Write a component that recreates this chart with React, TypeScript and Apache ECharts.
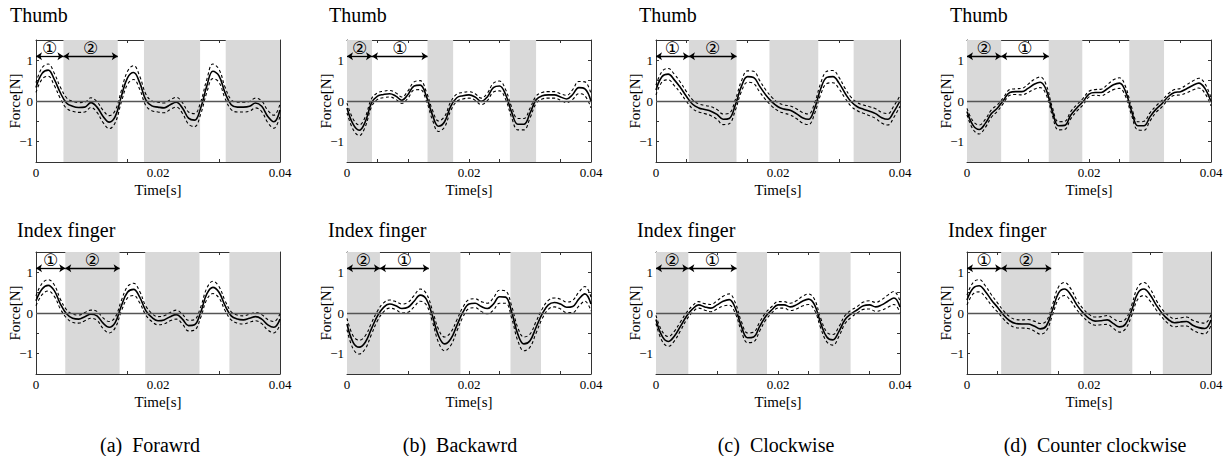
import React, { useEffect, useRef } from "react";
import * as echarts from "echarts";

const TIME_MS = [0,1,2,3,4,5,6,7,8,9,10,11,12,13,14,15,16,17,18,19,20,21,22,23,24,25,26,27,28,29,30,31,32,33,34,35,36,37,38,39,40];

// (a) Forward
const fwdThumb = [0.33,0.68,0.76,0.53,0.2,-0.05,-0.13,-0.16,-0.15,-0.04,-0.15,-0.38,-0.52,-0.38,0.12,0.57,0.7,0.45,0.03,-0.12,-0.15,-0.17,-0.09,-0.03,-0.17,-0.42,-0.47,-0.17,0.37,0.73,0.62,0.2,-0.09,-0.15,-0.15,-0.13,-0.05,-0.13,-0.38,-0.51,-0.22];
const fwdThumbSd = [0.12,0.14,0.15,0.15,0.14,0.13,0.12,0.12,0.12,0.12,0.13,0.15,0.16,0.15,0.14,0.16,0.17,0.16,0.14,0.12,0.12,0.12,0.12,0.12,0.13,0.15,0.16,0.15,0.16,0.18,0.16,0.14,0.12,0.12,0.12,0.12,0.12,0.13,0.15,0.16,0.15];
const fwdIndex = [0.3,0.59,0.68,0.55,0.22,-0.02,-0.13,-0.15,-0.09,-0.03,-0.07,-0.25,-0.35,-0.23,0.18,0.51,0.58,0.39,0.06,-0.11,-0.19,-0.17,-0.09,-0.04,-0.15,-0.31,-0.29,0.02,0.47,0.63,0.51,0.18,-0.07,-0.15,-0.17,-0.13,-0.09,-0.15,-0.29,-0.35,-0.15];
const fwdIndexSd = [0.12,0.14,0.14,0.14,0.12,0.1,0.1,0.1,0.1,0.1,0.11,0.13,0.14,0.13,0.13,0.14,0.15,0.14,0.11,0.1,0.1,0.1,0.1,0.11,0.12,0.13,0.13,0.13,0.14,0.15,0.14,0.12,0.1,0.1,0.1,0.1,0.1,0.11,0.13,0.14,0.13];

// (b) Backward
const bwdThumb = [-0.17,-0.57,-0.72,-0.51,-0.05,0.12,0.16,0.18,0.12,0.02,0.16,0.37,0.39,0.12,-0.34,-0.62,-0.51,-0.13,0.08,0.13,0.15,0.1,-0.01,0.1,0.33,0.37,0.16,-0.28,-0.57,-0.57,-0.3,0.03,0.13,0.15,0.15,0.1,0.05,0.16,0.33,0.3,0];
const bwdThumbSd = [0.12,0.13,0.13,0.12,0.1,0.08,0.08,0.08,0.08,0.08,0.09,0.1,0.11,0.11,0.12,0.13,0.13,0.11,0.09,0.08,0.08,0.08,0.08,0.09,0.11,0.12,0.12,0.13,0.14,0.14,0.12,0.09,0.08,0.08,0.08,0.08,0.09,0.12,0.15,0.17,0.17];
const bwdIndex = [-0.27,-0.72,-0.84,-0.72,-0.39,-0.07,0.14,0.22,0.18,0.11,0.14,0.29,0.44,0.34,-0.07,-0.56,-0.76,-0.64,-0.31,0.02,0.22,0.24,0.16,0.11,0.22,0.4,0.39,0.02,-0.52,-0.76,-0.68,-0.35,-0.02,0.2,0.26,0.22,0.14,0.16,0.34,0.47,0.22];
const bwdIndexSd = [0.14,0.16,0.17,0.16,0.14,0.12,0.11,0.1,0.1,0.11,0.12,0.14,0.15,0.14,0.14,0.16,0.17,0.16,0.14,0.12,0.11,0.11,0.12,0.13,0.15,0.16,0.15,0.15,0.16,0.17,0.16,0.14,0.12,0.11,0.11,0.12,0.13,0.15,0.17,0.18,0.17];

// (c) Clockwise
const cwThumb = [0.27,0.6,0.66,0.52,0.33,0.11,-0.08,-0.17,-0.21,-0.25,-0.33,-0.45,-0.43,-0.1,0.36,0.6,0.58,0.36,0.15,-0.02,-0.14,-0.2,-0.23,-0.31,-0.41,-0.45,-0.18,0.3,0.58,0.6,0.44,0.19,-0.02,-0.14,-0.2,-0.25,-0.31,-0.41,-0.45,-0.26,0];
const cwThumbSd = [0.12,0.13,0.14,0.14,0.13,0.12,0.11,0.1,0.1,0.11,0.12,0.13,0.13,0.13,0.13,0.14,0.15,0.14,0.12,0.11,0.1,0.1,0.11,0.12,0.13,0.13,0.13,0.14,0.15,0.15,0.14,0.12,0.11,0.1,0.1,0.11,0.12,0.13,0.14,0.14,0.13];
const cwIndex = [-0.16,-0.57,-0.7,-0.57,-0.33,-0.08,0.1,0.2,0.15,0.12,0.2,0.29,0.33,0.12,-0.33,-0.61,-0.59,-0.33,-0.08,0.08,0.2,0.2,0.15,0.2,0.29,0.34,0.2,-0.25,-0.59,-0.66,-0.45,-0.16,-0.02,0.08,0.18,0.2,0.15,0.2,0.29,0.37,0.15];
const cwIndexSd = [0.1,0.12,0.12,0.12,0.11,0.09,0.08,0.08,0.08,0.09,0.1,0.12,0.14,0.13,0.12,0.12,0.12,0.11,0.09,0.08,0.08,0.08,0.09,0.1,0.12,0.13,0.13,0.12,0.12,0.13,0.12,0.1,0.09,0.08,0.09,0.1,0.11,0.13,0.15,0.16,0.14];

// (d) Counter clockwise
const ccwThumb = [-0.26,-0.6,-0.7,-0.55,-0.31,-0.17,0.02,0.21,0.23,0.23,0.31,0.41,0.46,0.27,-0.26,-0.61,-0.6,-0.35,-0.17,-0.02,0.17,0.21,0.21,0.3,0.4,0.44,0.23,-0.26,-0.61,-0.61,-0.39,-0.2,-0.06,0.11,0.21,0.23,0.3,0.38,0.44,0.31,-0.02];
const ccwThumbSd = [0.08,0.1,0.11,0.1,0.09,0.08,0.07,0.07,0.07,0.08,0.1,0.12,0.13,0.12,0.1,0.1,0.1,0.09,0.08,0.08,0.07,0.07,0.08,0.1,0.12,0.13,0.12,0.1,0.1,0.11,0.1,0.08,0.08,0.07,0.07,0.08,0.1,0.11,0.12,0.12,0.1];
const ccwIndex = [0.32,0.61,0.67,0.53,0.32,0.14,-0.05,-0.19,-0.26,-0.27,-0.27,-0.32,-0.39,-0.32,0.07,0.49,0.59,0.45,0.2,0.01,-0.13,-0.2,-0.19,-0.17,-0.26,-0.34,-0.27,0.07,0.49,0.59,0.45,0.2,-0.01,-0.16,-0.24,-0.22,-0.21,-0.3,-0.36,-0.38,-0.17];
const ccwIndexSd = [0.12,0.14,0.15,0.14,0.13,0.11,0.1,0.1,0.1,0.1,0.11,0.12,0.13,0.12,0.13,0.15,0.16,0.15,0.12,0.1,0.1,0.1,0.1,0.11,0.12,0.13,0.12,0.13,0.15,0.16,0.15,0.12,0.1,0.1,0.1,0.1,0.11,0.12,0.13,0.13,0.13];

// shaded phases [start, end] in seconds
const fwdThumbShade = [[0.0045, 0.0134], [0.0177, 0.0269], [0.0311, 0.04]];
const fwdIndexShade = [[0.0048, 0.0137], [0.0179, 0.0268], [0.0317, 0.04]];
const bwdThumbShade = [[0, 0.0041], [0.0132, 0.0174], [0.0267, 0.031]];
const bwdIndexShade = [[0, 0.0054], [0.0136, 0.0186], [0.0268, 0.0318]];
const cwThumbShade = [[0.0054, 0.0132], [0.0186, 0.0266], [0.0324, 0.04]];
const cwIndexShade = [[0, 0.0053], [0.0132, 0.0182], [0.0268, 0.0319]];
const ccwThumbShade = [[0, 0.0056], [0.0134, 0.0189], [0.0266, 0.0323]];
const ccwIndexShade = [[0.0056, 0.0138], [0.0191, 0.0271], [0.0321, 0.04]];

// phase arrows [label, start, end]
const fwdThumbArrows = [["①", 0, 0.0045], ["②", 0.0045, 0.0134]];
const fwdIndexArrows = [["①", 0, 0.0048], ["②", 0.0048, 0.0137]];
const bwdThumbArrows = [["②", 0, 0.0041], ["①", 0.0041, 0.0132]];
const bwdIndexArrows = [["②", 0, 0.0054], ["①", 0.0054, 0.0134]];
const cwThumbArrows = [["①", 0, 0.0054], ["②", 0.0054, 0.0132]];
const cwIndexArrows = [["②", 0, 0.0053], ["①", 0.0053, 0.0132]];
const ccwThumbArrows = [["②", 0, 0.0056], ["①", 0.0056, 0.0134]];
const ccwIndexArrows = [["①", 0, 0.0056], ["②", 0.0056, 0.0138]];

const ARROW_Y = 1.1;
const ROW_TITLES = ["Thumb", "Index finger"];
const CAPTIONS = ["(a)  Forawrd", "(b)  Backawrd", "(c)  Clockwise", "(d)  Counter clockwise"];

const PANELS = [
  { col: 0, row: 0, mean: fwdThumb, sd: fwdThumbSd, shade: fwdThumbShade, arrows: fwdThumbArrows },
  { col: 0, row: 1, mean: fwdIndex, sd: fwdIndexSd, shade: fwdIndexShade, arrows: fwdIndexArrows },
  { col: 1, row: 0, mean: bwdThumb, sd: bwdThumbSd, shade: bwdThumbShade, arrows: bwdThumbArrows },
  { col: 1, row: 1, mean: bwdIndex, sd: bwdIndexSd, shade: bwdIndexShade, arrows: bwdIndexArrows },
  { col: 2, row: 0, mean: cwThumb, sd: cwThumbSd, shade: cwThumbShade, arrows: cwThumbArrows },
  { col: 2, row: 1, mean: cwIndex, sd: cwIndexSd, shade: cwIndexShade, arrows: cwIndexArrows },
  { col: 3, row: 0, mean: ccwThumb, sd: ccwThumbSd, shade: ccwThumbShade, arrows: ccwThumbArrows },
  { col: 3, row: 1, mean: ccwIndex, sd: ccwIndexSd, shade: ccwIndexShade, arrows: ccwIndexArrows },
];

// layout
const GRID_LEFT = [36, 347, 656, 967];
const GRID_TOP = [40, 252];
const GRID_W = 244;
const GRID_H = 122;
const TITLE_POS = [
  [[10, 15], [17, 230]],
  [[329, 15], [328, 230]],
  [[639, 15], [637, 230]],
  [[950, 15], [948, 230]],
];
const CAPTION_X = [150, 460, 776, 1095];
const CAPTION_Y = 445;

const FONT = '"Liberation Serif", "Times New Roman", serif';
const AXIS_COLOR = "#333";

function xLabel(v: number) {
  const r = Math.round(v * 1000) / 1000;
  if (r === 0) return "0";
  if (r === 0.02) return "0.02";
  if (r === 0.04) return "0.04";
  return "";
}
function yLabel(v: number) {
  const r = Math.round(v * 10) / 10;
  if (r === 1) return "1";
  if (r === 0) return "0";
  if (r === -1) return "\u22121";
  return "";
}

export default function App() {
  const ref = useRef<HTMLDivElement>(null);
  useEffect(() => {
    if (!ref.current) return;
    const chart = echarts.init(ref.current, undefined, { renderer: "svg" });
    const grid: any[] = [];
    const xAxis: any[] = [];
    const yAxis: any[] = [];
    const series: any[] = [];
    PANELS.forEach((p, i) => {
      grid.push({ left: GRID_LEFT[p.col], top: GRID_TOP[p.row], width: GRID_W, height: GRID_H, containLabel: false });
      const tick = { show: true, inside: true, length: 3, lineStyle: { color: AXIS_COLOR, width: 1 } };
      const line = { show: true, onZero: false, lineStyle: { color: AXIS_COLOR, width: 1 } };
      xAxis.push({
        type: "value", gridIndex: i, min: 0, max: 0.04, interval: 0.005, position: "bottom",
        axisLine: line, axisTick: tick, splitLine: { show: false },
        axisLabel: { formatter: xLabel, fontFamily: FONT, fontSize: 13, color: "#000", margin: 4, showMinLabel: true, showMaxLabel: true },
        name: "Time[s]", nameLocation: "middle", nameGap: 20, nameMoveOverlap: false,
        nameTextStyle: { fontFamily: FONT, fontSize: 15, color: "#000" },
      });
      xAxis.push({
        type: "value", gridIndex: i, min: 0, max: 0.04, interval: 0.005, position: "top",
        axisLine: line, axisTick: tick, splitLine: { show: false }, axisLabel: { show: false },
      });
      yAxis.push({
        type: "value", gridIndex: i, min: -1.5, max: 1.5, interval: 0.5, position: "left",
        axisLine: line, axisTick: tick, splitLine: { show: false },
        axisLabel: { formatter: yLabel, fontFamily: FONT, fontSize: 13, color: "#000", margin: 3 },
        name: "Force[N]", nameLocation: "middle", nameGap: 14, nameRotate: 90, nameMoveOverlap: false,
        nameTextStyle: { fontFamily: FONT, fontSize: 15, color: "#000" },
      });
      yAxis.push({
        type: "value", gridIndex: i, min: -1.5, max: 1.5, interval: 0.5, position: "right",
        axisLine: line, axisTick: tick, splitLine: { show: false }, axisLabel: { show: false },
      });
      const xi = i * 2;
      const yi = i * 2;
      // background shading and zero line
      series.push({
        type: "line", xAxisIndex: xi, yAxisIndex: yi, data: [], z: 1, silent: true,
        markArea: {
          silent: true,
          itemStyle: { color: "#d9d9d9" },
          data: p.shade.map((s) => [{ xAxis: s[0] }, { xAxis: s[1] }]),
        },
        markLine: {
          silent: true, symbol: "none", label: { show: false },
          lineStyle: { color: "#555", width: 1.3, type: "solid" },
          data: [{ yAxis: 0 }],
        },
      });
      const mk = (vals: number[]) => vals.map((v, k) => [TIME_MS[k] / 1000, v]);
      const upper = p.mean.map((v, k) => v + p.sd[k]);
      const lower = p.mean.map((v, k) => v - p.sd[k]);
      series.push({
        type: "line", xAxisIndex: xi, yAxisIndex: yi, data: mk(upper), smooth: 0.4, symbol: "none", z: 3,
        lineStyle: { color: "#000", width: 1.1, type: [3, 2.5] },
      });
      series.push({
        type: "line", xAxisIndex: xi, yAxisIndex: yi, data: mk(lower), smooth: 0.4, symbol: "none", z: 3,
        lineStyle: { color: "#000", width: 1.1, type: [3, 2.5] },
      });
      series.push({
        type: "line", xAxisIndex: xi, yAxisIndex: yi, data: mk(p.mean), smooth: 0.4, symbol: "none", z: 4,
        lineStyle: { color: "#000", width: 1.6 },
      });
      // phase arrows
      series.push({
        type: "line", xAxisIndex: xi, yAxisIndex: yi, data: [], z: 5, silent: true,
        markLine: {
          silent: true, symbol: ["arrow", "arrow"], symbolSize: 6,
          lineStyle: { color: "#000", width: 1.3, type: "solid" },
          label: { show: true, position: "middle", formatter: "{b}", fontSize: 17, color: "#000", fontFamily: '"DejaVu Sans", sans-serif', distance: 0 },
          data: p.arrows.map((a: any) => [
            { name: a[0], coord: [a[1], ARROW_Y] },
            { coord: [a[2], ARROW_Y] },
          ]),
        },
      });
    });
    const graphic: any[] = [];
    PANELS.forEach((p) => {
      const pos = TITLE_POS[p.col][p.row];
      graphic.push({
        type: "text", x: pos[0], y: pos[1],
        style: { text: ROW_TITLES[p.row], font: `20px ${FONT}`, fill: "#000", textVerticalAlign: "middle", textAlign: "left" },
      });
    });
    CAPTIONS.forEach((c, i) => {
      graphic.push({
        type: "text", x: CAPTION_X[i], y: CAPTION_Y,
        style: { text: c, font: `20px ${FONT}`, fill: "#000", textVerticalAlign: "middle", textAlign: "center" },
      });
    });
    chart.setOption({ animation: false, backgroundColor: "#fff", grid, xAxis, yAxis, series, graphic });
    return () => chart.dispose();
  }, []);
  return <div ref={ref} style={{ position: "absolute", left: 0, top: 0, width: 1228, height: 456 }} />;
}
